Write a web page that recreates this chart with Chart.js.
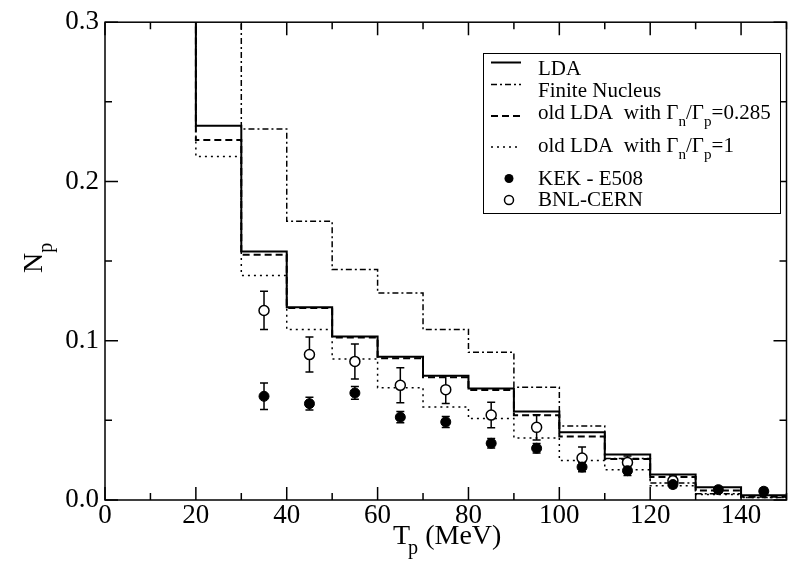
<!DOCTYPE html>
<html>
<head>
<meta charset="utf-8">
<script src="https://cdn.jsdelivr.net/npm/chart.js@4.4.0/dist/chart.umd.min.js"></script>
<style>
  html, body { margin: 0; padding: 0; background: #fff; overflow: hidden; }
  #wrap { width: 793px; height: 570px; }
</style>
</head>
<body>
<div id="wrap"><canvas id="chart" width="793" height="570"></canvas></div>
<script>
// histogram bins: left edges in MeV, last bin closes at 150
const binEdges = [10, 20, 30, 40, 50, 60, 70, 80, 90, 100, 110, 120, 130, 140];
const binEnd = 150;
// first bins run off the top of the frame
const ldaVals     = [0.40, 0.235, 0.156, 0.121, 0.1027, 0.090, 0.078, 0.070, 0.0555, 0.0425, 0.0285, 0.016, 0.008, 0.003];
const finiteVals  = [0.40, 0.40, 0.233, 0.175, 0.1447, 0.130, 0.107, 0.0927, 0.0708, 0.0464, 0.026, 0.0107, 0.004, 0.0015];
const oldLda285   = [0.40, 0.226, 0.154, 0.1205, 0.102, 0.089, 0.077, 0.069, 0.0532, 0.0398, 0.0257, 0.0145, 0.006, 0.002];
const oldLda1     = [0.40, 0.2157, 0.141, 0.107, 0.0886, 0.0705, 0.0584, 0.0512, 0.039, 0.0248, 0.019, 0.009, 0.0035, 0.0015];

// data points
const kekE   = [35, 45, 55, 65, 75, 85, 95, 105, 115, 125, 135, 145];
const kekVals = [0.0651, 0.0605, 0.0672, 0.052, 0.049, 0.0356, 0.0325, 0.0207, 0.0184, 0.0097, 0.0065, 0.0055];
const kekErr  = [0.0083, 0.004, 0.004, 0.0035, 0.0035, 0.003, 0.003, 0.003, 0.003, 0.002, 0.002, 0.002];
const bnlE   = [35, 45, 55, 65, 75, 85, 95, 105, 115, 125];
const bnlVals = [0.119, 0.0913, 0.087, 0.072, 0.0693, 0.0533, 0.0456, 0.0263, 0.0236, 0.0121];
const bnlErr  = [0.012, 0.011, 0.011, 0.011, 0.0087, 0.008, 0.008, 0.007, 0.004, 0.003];

// axis ticks
const xTicks = [0, 20, 40, 60, 80, 100, 120, 140];
const xMinor = [10, 30, 50, 70, 90, 110, 130, 150];
const yTicks = [0.0, 0.1, 0.2, 0.3];
const yMinor = [0.05, 0.15, 0.25];

const FONT = '"Liberation Serif", "Times New Roman", serif';

function steps(vals) {
    const pts = vals.map((v, i) => ({ x: binEdges[i], y: v }));
    pts.push({ x: binEnd, y: vals[vals.length - 1] });
    return pts;
}
function pts(xs, ys) {
    return xs.map((x, i) => ({ x: x, y: ys[i] }));
}

// legend entries (drawn by hand because of the subscripts)
const legendItems = [
    { parts: [{ t: 'LDA' }], kind: 'line', dash: [] , width: 2 },
    { parts: [{ t: 'Finite Nucleus' }], kind: 'line', dash: [6, 3, 2, 3], width: 1.5 },
    { parts: [{ t: 'old LDA  with \u0393' }, { t: 'n', sub: true }, { t: '/\u0393' }, { t: 'p', sub: true }, { t: '=0.285' }], kind: 'line', dash: [7, 4], width: 2 },
    { parts: [{ t: 'old LDA  with \u0393' }, { t: 'n', sub: true }, { t: '/\u0393' }, { t: 'p', sub: true }, { t: '=1' }], kind: 'line', dash: [2, 4], width: 1.5 },
    { parts: [{ t: 'KEK - E508' }], kind: 'filled' },
    { parts: [{ t: 'BNL-CERN' }], kind: 'open' }
];
const legendRows = [62.5, 84.5, 116, 147, 178.5, 200];
const legendBase = [75, 96.5, 118.5, 151.5, 185, 205.5];

function drawParts(ctx, parts, x, y, size) {
    parts.forEach(p => {
        const fs = p.sub ? size * 0.72 : size;
        ctx.font = fs + 'px ' + FONT;
        ctx.fillText(p.t, x, y + (p.sub ? size * 0.35 : 0));
        x += ctx.measureText(p.t).width;
    });
    return x;
}

// error bars under the markers
const errorBars = {
    id: 'errorBars',
    beforeDatasetsDraw(chart) {
        const ctx = chart.ctx, xs = chart.scales.x, ys = chart.scales.y;
        ctx.save();
        ctx.strokeStyle = '#000';
        ctx.lineWidth = 1.5;
        const sets = [[kekE, kekVals, kekErr], [bnlE, bnlVals, bnlErr]];
        sets.forEach(([ex, ev, ee]) => {
            ex.forEach((x, i) => {
                const px = xs.getPixelForValue(x);
                const y1 = ys.getPixelForValue(ev[i] + ee[i]);
                const y2 = ys.getPixelForValue(ev[i] - ee[i]);
                ctx.beginPath();
                ctx.moveTo(px, y1); ctx.lineTo(px, y2);
                ctx.moveTo(px - 4, y1); ctx.lineTo(px + 4, y1);
                ctx.moveTo(px - 4, y2); ctx.lineTo(px + 4, y2);
                ctx.stroke();
            });
        });
        ctx.restore();
    }
};

// frame, inward ticks, axis titles and legend
const decorations = {
    id: 'decorations',
    afterDraw(chart) {
        const ctx = chart.ctx, a = chart.chartArea;
        const xs = chart.scales.x, ys = chart.scales.y;
        ctx.save();
        ctx.strokeStyle = '#000';
        ctx.lineWidth = 1.5;
        ctx.setLineDash([]);
        ctx.strokeRect(a.left, a.top, a.right - a.left, a.bottom - a.top);

        ctx.beginPath();
        xTicks.concat(xMinor).forEach(v => {
            const len = xTicks.includes(v) ? 13 : 7;
            const px = xs.getPixelForValue(v);
            ctx.moveTo(px, a.bottom); ctx.lineTo(px, a.bottom - len);
            ctx.moveTo(px, a.top); ctx.lineTo(px, a.top + len);
        });
        yTicks.concat(yMinor).forEach(v => {
            const len = yTicks.includes(v) ? 13 : 7;
            const py = ys.getPixelForValue(v);
            ctx.moveTo(a.left, py); ctx.lineTo(a.left + len, py);
            ctx.moveTo(a.right, py); ctx.lineTo(a.right - len, py);
        });
        ctx.stroke();

        // axis titles
        ctx.fillStyle = '#000';
        ctx.textBaseline = 'alphabetic';
        ctx.textAlign = 'left';
        let x = drawParts(ctx, [{ t: 'T' }], 393, 544, 28);
        x = drawParts(ctx, [{ t: 'p', sub: true }], x - 2, 544, 28);
        drawParts(ctx, [{ t: ' (MeV)' }], x, 544, 28);

        ctx.save();
        ctx.translate(42, 273);
        ctx.rotate(-Math.PI / 2);
        drawParts(ctx, [{ t: 'N' }, { t: 'p', sub: true }], 0, 0, 28);
        ctx.restore();

        // legend box
        ctx.fillStyle = '#fff';
        ctx.fillRect(483, 53, 297, 160);
        ctx.lineWidth = 1;
        ctx.strokeRect(483.5, 53.5, 297, 160);
        legendItems.forEach((it, i) => {
            const ly = legendRows[i];
            ctx.strokeStyle = '#000';
            ctx.fillStyle = '#000';
            if (it.kind === 'line') {
                ctx.lineWidth = it.width;
                ctx.setLineDash(it.dash);
                ctx.beginPath();
                ctx.moveTo(491, ly); ctx.lineTo(521, ly);
                ctx.stroke();
                ctx.setLineDash([]);
            } else {
                ctx.lineWidth = 1.5;
                ctx.beginPath();
                ctx.arc(509, ly, 4.5, 0, Math.PI * 2);
                if (it.kind === 'filled') ctx.fill(); else ctx.stroke();
            }
            drawParts(ctx, it.parts, 538, legendBase[i], 21);
        });
        ctx.restore();
    }
};

function histSet(label, vals, dash, width) {
    return {
        label: label,
        data: steps(vals),
        showLine: true,
        stepped: true,
        borderColor: '#000',
        borderWidth: width,
        borderDash: dash,
        pointRadius: 0,
        fill: false
    };
}

new Chart(document.getElementById('chart'), {
    type: 'scatter',
    data: {
        datasets: [
            {
                label: 'KEK - E508',
                data: pts(kekE, kekVals),
                pointRadius: 5,
                pointBackgroundColor: '#000',
                pointBorderColor: '#000',
                pointBorderWidth: 1
            },
            {
                label: 'BNL-CERN',
                data: pts(bnlE, bnlVals),
                pointRadius: 5,
                pointBackgroundColor: '#fff',
                pointBorderColor: '#000',
                pointBorderWidth: 1.5
            },
            histSet('LDA', ldaVals, [], 2),
            histSet('Finite Nucleus', finiteVals, [6, 3, 2, 3], 1.5),
            histSet('old LDA 0.285', oldLda285, [7, 4], 2),
            histSet('old LDA 1', oldLda1, [2, 4], 1.5)
        ]
    },
    options: {
        responsive: false,
        animation: false,
        devicePixelRatio: 1,
        layout: { padding: { left: 0, top: 19, right: 0.5, bottom: 0 } },
        plugins: { legend: { display: false }, tooltip: { enabled: false } },
        scales: {
            x: {
                type: 'linear',
                min: 0, max: 150,
                grid: { display: false, drawTicks: false },
                border: { display: false },
                afterBuildTicks: s => { s.ticks = xTicks.map(v => ({ value: v })); },
                afterFit: s => { s.height = 70; },
                ticks: {
                    color: '#000',
                    padding: 0,
                    maxRotation: 0,
                    font: { family: FONT, size: 27 },
                    callback: v => String(v)
                }
            },
            y: {
                type: 'linear',
                min: 0, max: 0.3,
                grid: { display: false, drawTicks: false },
                border: { display: false },
                afterBuildTicks: s => { s.ticks = yTicks.map(v => ({ value: v })); },
                afterFit: s => { s.width = 105; },
                ticks: {
                    color: '#000',
                    padding: 6,
                    font: { family: FONT, size: 27 },
                    callback: v => Number(v).toFixed(1)
                }
            }
        }
    },
    plugins: [errorBars, decorations]
});
</script>
</body>
</html>
